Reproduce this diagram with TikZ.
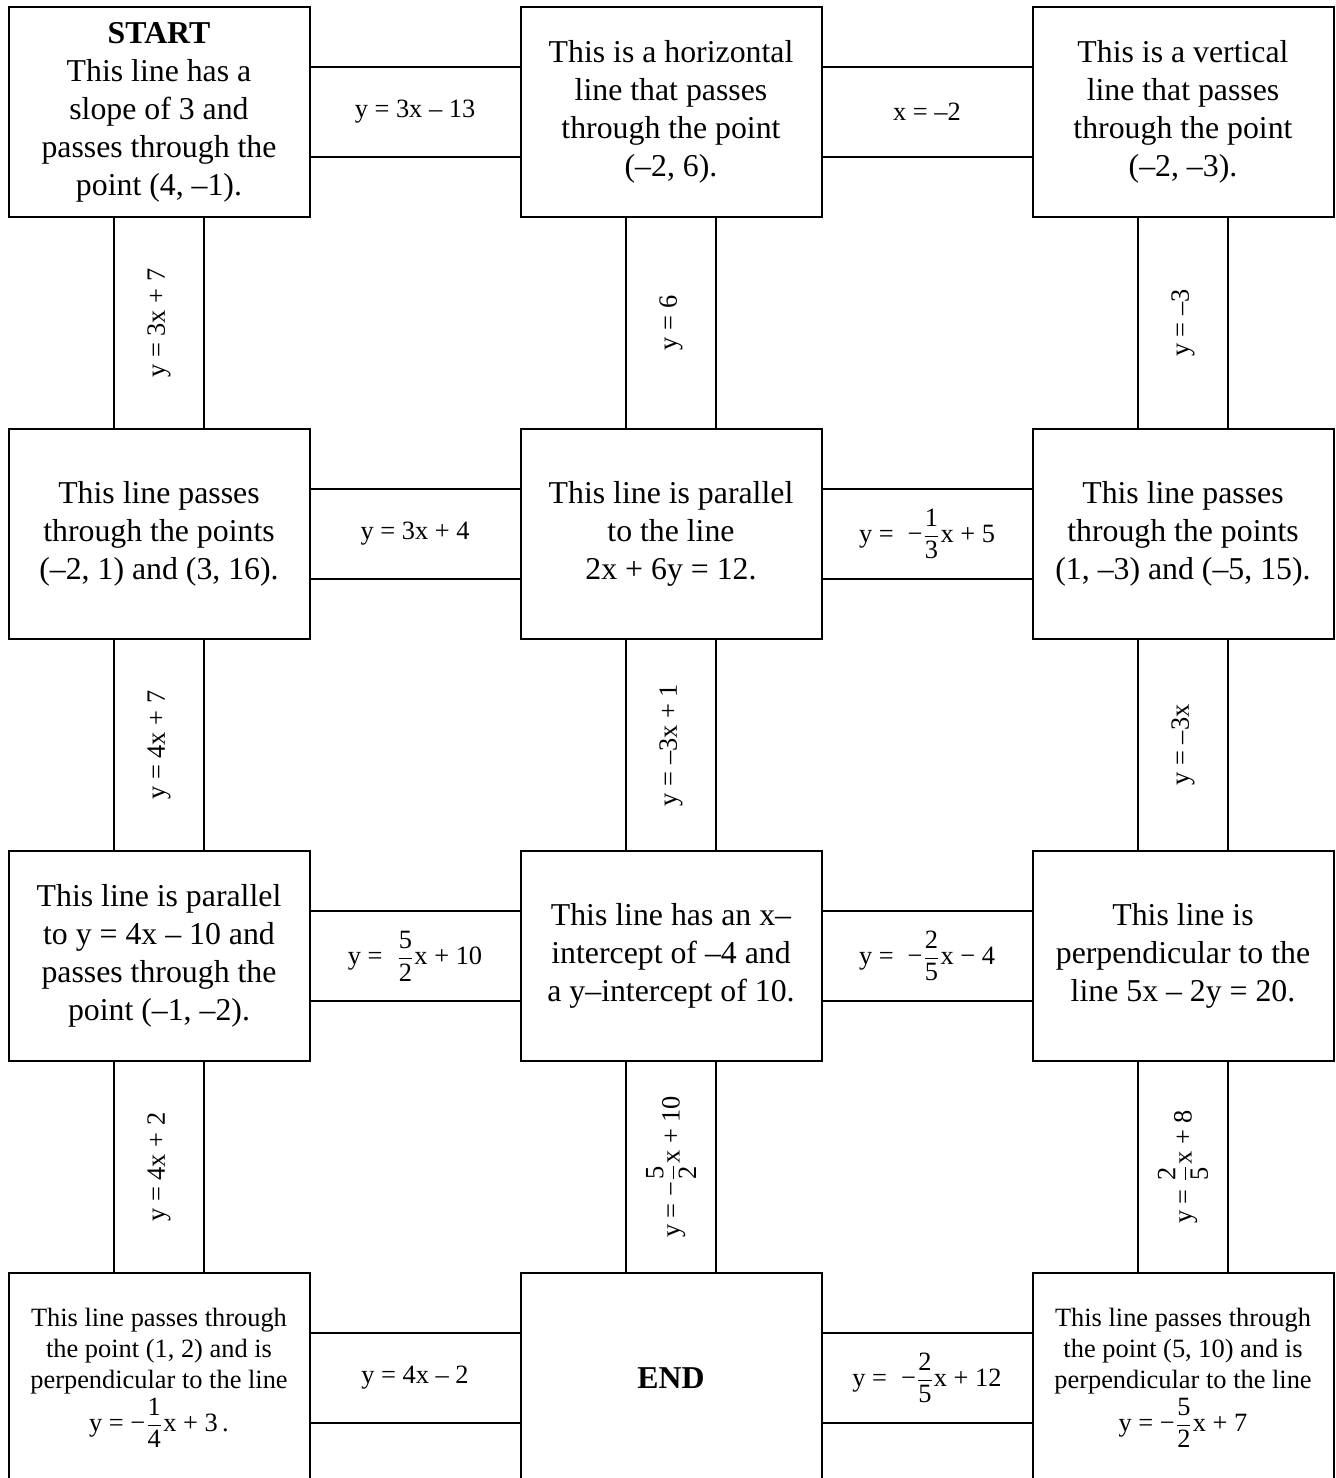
\documentclass[tikz,border=0pt]{standalone}
\usepackage{amsmath,graphicx}
\usepackage{fontspec}
\setmainfont{Liberation Serif}
\usetikzlibrary{positioning}
\newcommand{\fr}[2]{$\dfrac{\text{#1}}{\text{#2}}$}

\begin{document}
\begin{tikzpicture}[
 box/.style={draw,line width=1pt,outer sep=0pt,inner sep=2pt,align=center,
   minimum width=150.5pt,minimum height=105.3pt,font=\fontsize{15.9}{19}\selectfont},
 smallbox/.style={box,font=\fontsize{13.2}{15.4}\selectfont},
 hbar/.style={draw,line width=1pt,outer sep=0pt,inner sep=0pt,align=center,
   minimum width=105.5pt,minimum height=45.3pt,font=\fontsize{13.2}{15.4}\selectfont},
 vbar/.style={hbar,minimum width=45.3pt,minimum height=105.7pt},
 node distance=105.7pt and 105.5pt]
 \path[use as bounding box,fill=white] (0,0) rectangle (667.5pt,-739pt);
 \clip (0,0) rectangle (667.5pt,-739pt);
 \node[box] (b11) at (79.5pt,-56pt)
   {\textbf{START}\\This line has a\\slope of 3 and\\passes through the\\point (4, –1).};
 \node[box,right=of b11] (b12) {This is a horizontal\\line that passes\\through the point\\(–2, 6).};
 \node[box,right=of b12] (b13) {This is a vertical\\line that passes\\through the point\\(–2, –3).};
 \node[box,below=of b11] (b21) {This line passes\\through the points\\(–2, 1) and (3, 16).};
 \node[box,below=of b12] (b22) {This line is parallel\\to the line\\2x + 6y = 12.};
 \node[box,below=of b13] (b23) {This line passes\\through the points\\(1, –3) and (–5, 15).};
 \node[box,below=of b21] (b31) {This line is parallel\\to y = 4x – 10 and\\passes through the\\point (–1, –2).};
 \node[box,below=of b22] (b32) {This line has an x–\\intercept of –4 and\\a y–intercept of 10.};
 \node[box,below=of b23] (b33) {This line is\\perpendicular to the\\line 5x – 2y = 20.};
 \node[smallbox,below=of b31] (b41)
   {This line passes through\\the point (1, 2) and is\\perpendicular to the line\\[1pt]y = −\fr{1}{4}x + 3\,.};
 \node[box,below=of b32] (b42) {\textbf{END}};
 \node[smallbox,below=of b33] (b43)
   {This line passes through\\the point (5, 10) and is\\perpendicular to the line\\[1pt]y = −\fr{5}{2}x + 7};
 \node[hbar,right=0pt of b11] (h11) {y = 3x – 13};
 \node[hbar,right=0pt of b12] (h12) {x = –2};
 \node[hbar,right=0pt of b21] (h21) {y = 3x + 4};
 \node[hbar,right=0pt of b22] (h22) {y =\; −\fr{1}{3}x + 5};
 \node[hbar,right=0pt of b31] (h31) {y =\; \fr{5}{2}x + 10};
 \node[hbar,right=0pt of b32] (h32) {y =\; −\fr{2}{5}x − 4};
 \node[hbar,right=0pt of b41] (h41) {y = 4x – 2};
 \node[hbar,right=0pt of b42] (h42) {y =\; −\fr{2}{5}x + 12};
 \node[vbar,below=0pt of b11] (v11) {\rotatebox{90}{y = 3x + 7}};
 \node[vbar,below=0pt of b12] (v12) {\rotatebox{90}{y = 6}};
 \node[vbar,below=0pt of b13] (v13) {\rotatebox{90}{y = –3}};
 \node[vbar,below=0pt of b21] (v21) {\rotatebox{90}{y = 4x + 7}};
 \node[vbar,below=0pt of b22] (v22) {\rotatebox{90}{y = –3x + 1}};
 \node[vbar,below=0pt of b23] (v23) {\rotatebox{90}{y = –3x}};
 \node[vbar,below=0pt of b31] (v31) {\rotatebox{90}{y = 4x + 2}};
 \node[vbar,below=0pt of b32] (v32) {\rotatebox{90}{y = −\fr{5}{2}x + 10}};
 \node[vbar,below=0pt of b33] (v33) {\rotatebox{90}{y = \fr{2}{5}x + 8}};
\end{tikzpicture}
\end{document}
